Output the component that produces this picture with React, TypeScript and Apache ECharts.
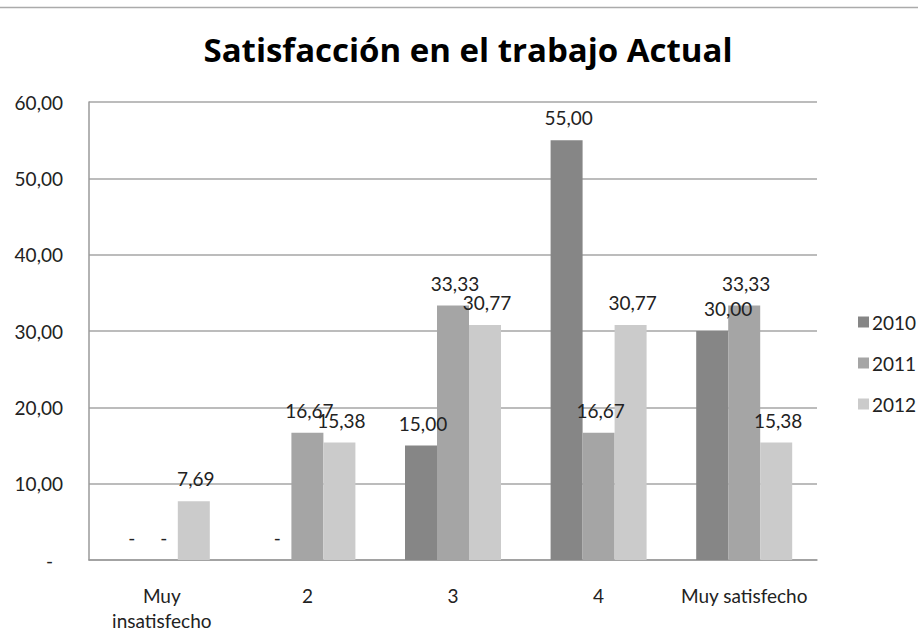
import React, { useEffect, useRef } from "react";
import * as echarts from "echarts";

const categories = ["Muy\ninsatisfecho", "2", "3", "4", "Muy satisfecho"];
const seriesNames = ["2010", "2011", "2012"];
const values2010 = [0, 0, 15.0, 55.0, 30.0];
const values2011 = [0, 16.67, 33.33, 16.67, 33.33];
const values2012 = [7.69, 15.38, 30.77, 30.77, 15.38];
const colors = ["#868686", "#a5a5a5", "#cbcbcb"];
const yTicks = { min: 0, max: 60, interval: 10 };

const FONT = "Lato, 'Noto Sans', sans-serif";
const TITLE_FONT = "'Open Sans', Lato, sans-serif";

const fmt = (v: number) => (v === 0 ? "-" : v.toFixed(2).replace(".", ","));

export default function App() {
  const ref = useRef<HTMLDivElement>(null);
  useEffect(() => {
    if (!ref.current) return;
    const chart = echarts.init(ref.current, undefined, { renderer: "svg" });
    const all = [values2010, values2011, values2012];
    chart.setOption({
      animation: false,
      backgroundColor: "#ffffff",
      title: {
        text: "Satisfacción en el trabajo Actual",
        left: 463,
        top: 28,
        textAlign: "center",
        textStyle: { fontFamily: TITLE_FONT, fontWeight: "bold", fontSize: 33, color: "#000" },
      },
      graphic: [
        {
          type: "line",
          shape: { x1: 0, y1: 7.5, x2: 918, y2: 7.5 },
          style: { stroke: "#ababab", lineWidth: 1.5 },
        },
      ],
      legend: {
        orient: "vertical",
        left: 853,
        top: 307,
        itemWidth: 11,
        itemHeight: 11,
        itemGap: 21,
        icon: "rect",
        data: seriesNames,
        textStyle: { fontFamily: FONT, fontSize: 19, color: "#222", lineHeight: 20, padding: [0, 0, 0, -2] },
      },
      grid: { left: 89, right: 101, top: 102, bottom: 69 },
      xAxis: {
        type: "category",
        data: categories,
        axisLine: { lineStyle: { color: "#9a9a9a", width: 1.5 } },
        axisTick: { show: false },
        axisLabel: {
          fontFamily: FONT,
          fontSize: 19,
          color: "#222",
          margin: 23,
          lineHeight: 25,
          interval: 0,
        },
      },
      yAxis: {
        type: "value",
        min: yTicks.min,
        max: yTicks.max,
        interval: yTicks.interval,
        axisLine: { show: true, lineStyle: { color: "#9a9a9a", width: 1.5 } },
        axisTick: { show: false },
        splitLine: { lineStyle: { color: "#a6a6a6", width: 1.5 } },
        axisLabel: {
          fontFamily: FONT,
          fontSize: 19,
          color: "#222",
          margin: 26,
          formatter: (v: number) => (v === 0 ? "{d|-}" : fmt(v)),
          rich: { d: { fontFamily: FONT, fontSize: 19, color: "#222", padding: [0, 10, 0, 0] } },
        },
      },
      series: seriesNames.map((name, si) => ({
        name,
        type: "bar",
        barWidth: 32,
        barGap: "0%",
        itemStyle: { color: colors[si] },
        data: all[si].map((v, ci) => {
          const item: any = { value: v };
          if (si === 0 && ci === 4) {
            item.label = { offset: [16, 0] };
          } else {
            item.label = { offset: [2, 0] };
          }
          return item;
        }),
        label: {
          show: true,
          position: "top",
          distance: 13,
          fontFamily: FONT,
          fontSize: 19,
          color: "#222",
          formatter: (p: any) => fmt(p.value),
        },
      })),
    });
    return () => chart.dispose();
  }, []);
  return (
    <div
      ref={ref}
      style={{ position: "absolute", left: 0, top: 0, width: 918, height: 633 }}
    />
  );
}
